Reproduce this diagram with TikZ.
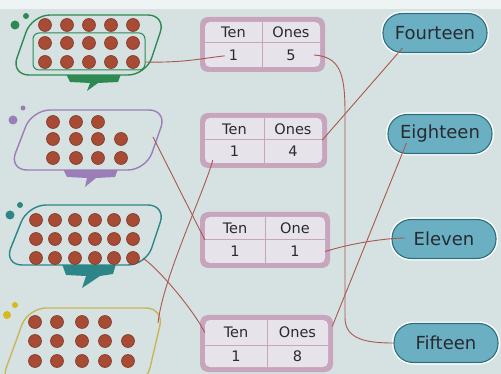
\documentclass[tikz,border=0pt]{standalone}
\usepackage{fontspec}
\setmainfont{DejaVu Sans}
\usetikzlibrary{positioning,calc}

\begin{document}
\begin{tikzpicture}[x=1pt,y=-1pt]
    \definecolor{colpage}{HTML}{D6E2E2}
    \definecolor{coldot}{HTML}{A84B34}
    \definecolor{coldotrim}{HTML}{7E3B2B}
    \definecolor{colgreen}{HTML}{2E8A52}
    \definecolor{colpurple}{HTML}{9B7DB7}
    \definecolor{colteal}{HTML}{2C8688}
    \definecolor{colyellow}{HTML}{C8B55A}
    \definecolor{colyelldot}{HTML}{D8B81C}
    \definecolor{colframe}{HTML}{C7A5BD}
    \definecolor{colcell}{HTML}{E6E4EA}
    \definecolor{colword}{HTML}{6AAFC2}
    \definecolor{colworddraw}{HTML}{2D6E7F}
    \definecolor{collink}{HTML}{A9574F}
    \definecolor{coltext}{HTML}{2A2A32}

    \tikzstyle{dot}=[fill=coldot,draw=coldotrim,line width=0.6pt]
    \tikzstyle{bubble}=[line width=1.4pt,rounded corners=18pt]
    \tikzstyle{tabcell}=[fill=colcell,rounded corners=5pt]
    \tikzstyle{tabrule}=[draw=colframe,line width=1pt]
    \tikzstyle{tabtext}=[font=\fontsize{14.5}{16}\selectfont,text=coltext,inner sep=0pt]
    \tikzstyle{word}=[draw=colworddraw,fill=colword,line width=1.1pt,rounded corners=19pt,
                      minimum width=104pt,minimum height=39pt,text=coltext,
                      font=\fontsize{18}{20}\selectfont,preaction={draw=white,line width=4pt}]
    \tikzstyle{link}=[draw=collink,line width=0.9pt]

    % table: name, x0, y0, x1, y1, split, middle, header, ones
    \def\numtable#1#2#3#4#5#6#7#8#9{
        \fill[colframe,rounded corners=8pt] (#2,#3) rectangle (#4,#5);
        \fill[tabcell] ({#2+5},{#3+5}) rectangle ({#4-5},{#5-5});
        \draw[tabrule] (#6,{#3+5}) -- (#6,{#5-5});
        \draw[tabrule] ({#2+5},#7) -- ({#4-5},#7);
        \node[tabtext,minimum width={#6-#2-5},minimum height={#7-#3-5}] (#1h1)
            at ({(#2+5+#6)/2},{(#3+5+#7)/2}) {Ten};
        \node[tabtext,minimum width={#4-5-#6},minimum height={#7-#3-5}] (#1h2)
            at ({(#6+#4-5)/2},{(#3+5+#7)/2}) {#8};
        \node[tabtext,minimum width={#6-#2-5},minimum height={#5-5-#7}] (#1d1)
            at ({(#2+5+#6)/2},{(#7+#5-5)/2}) {1};
        \node[tabtext,minimum width={#4-5-#6},minimum height={#5-5-#7}] (#1d2)
            at ({(#6+#4-5)/2},{(#7+#5-5)/2}) {#9};
    }

    % page
    \clip (0,0) rectangle (501,374);
    \fill[colpage] (0,0) rectangle (501,374);
    \fill[white,opacity=0.6] (0,0) rectangle (501,9);

    % green bubble (15)
    \fill[colgreen] (15,25) circle[radius=4.5] (26,16) circle[radius=3];
    \fill[colgreen] (66,74) -- (121,74) -- (118,82) -- (98,83) -- (87,91) -- (90,83) -- (70,82) -- cycle;
    \fill[colpage] (32,15) -- (166,15) -- (146,75) -- (11,75) -- cycle;
    \draw[bubble,colgreen] (32,15) -- (166,15) -- (146,75) -- (11,75) -- cycle;
    \draw[colgreen,line width=1pt,rounded corners=6pt] (33,33) rectangle (145,70);
    \foreach \x in {45,67,89,111,133}
        \foreach \y in {25,43,62}
            \draw[dot] (\x,\y) circle[radius=6.5];
    \coordinate (gbend) at (145,62);

    % purple bubble (11)
    \fill[colpurple] (13,120) circle[radius=4.5] (23,108) circle[radius=2.5];
    \fill[colpurple] (63,169) -- (118,169) -- (115,177) -- (96,178) -- (85,187) -- (87,178) -- (67,177) -- cycle;
    \fill[colpage] (32,110) -- (167,110) -- (146,170) -- (9,170) -- cycle;
    \draw[bubble,colpurple] (32,110) -- (167,110) -- (146,170) -- (9,170) -- cycle;
    \foreach \x in {53,76,98}
        \draw[dot] (\x,122) circle[radius=6.5];
    \foreach \x in {53,76,98,121}
        \foreach \y in {139,158}
            \draw[dot] (\x,\y) circle[radius=6.5];
    \coordinate (pbend) at (153,137);

    % teal bubble (18)
    \fill[colteal] (10,215) circle[radius=4.5] (20,205) circle[radius=3];
    \fill[colteal] (62,264) -- (116,264) -- (113,274) -- (100,276) -- (82,288) -- (86,276) -- (66,275) -- cycle;
    \fill[colpage] (28,205) -- (166,205) -- (146,265) -- (4,265) -- cycle;
    \draw[bubble,colteal] (28,205) -- (166,205) -- (146,265) -- (4,265) -- cycle;
    \foreach \x in {36,55,75,95,114,133}
        \foreach \y in {220,239,258}
            \draw[dot] (\x,\y) circle[radius=6.5];
    \coordinate (tbend) at (143,258);

    % yellow bubble (14)
    \fill[colyelldot] (7,315) circle[radius=4] (15,305) circle[radius=3];
    \draw[bubble,colyellow] (28,308) -- (164,308) -- (146,385) -- (0,385) -- cycle;
    \foreach \x in {35,57,82,105}
        \draw[dot] (\x,322) circle[radius=6.5];
    \foreach \x in {35,57,82,105,128}
        \foreach \y in {341,361}
            \draw[dot] (\x,\y) circle[radius=6.5];
    \coordinate (ybend) at (158,323);

    % tables
    \numtable{ta}{200}{17}{325}{72}{262}{43}{Ones}{5}
    \numtable{tb}{200}{113}{327}{168}{264}{140}{Ones}{4}
    \numtable{tc}{200}{212}{330}{268}{265}{240}{One}{1}
    \numtable{td}{200}{315}{333}{372}{267}{345}{Ones}{8}

    % number names
    \node[word] (fourteen) at (435,33) {Fourteen};
    \node[word] (eighteen) at (440,134) {Eighteen};
    \node[word] (eleven) at (444,239) {Eleven};
    \node[word] (fifteen) at (446,343) {Fifteen};

    % links
    \coordinate (turnA) at (345,112);
    \coordinate (turnB) at (345,318);
    \draw[link,shorten >=9pt] (gbend) .. controls +(40,1) and +(-30,3) .. (tad1.center);
    \draw[link] ([xshift=-6pt]tad2.east) .. controls +(25,2) and +(0,-40) .. (turnA)
        -- (turnB) .. controls +(0,22) and +(-25,0) .. (fifteen.west);
    \draw[link] (tbh2.south east) -- ([xshift=20pt,yshift=5pt]fourteen.south west);
    \draw[link] (pbend) -- (tcd1.north west);
    \draw[link] (tbend) .. controls +(20,15) and +(-10,-20) .. (tdh1.west);
    \draw[link] ([xshift=8pt,yshift=3pt]tbd1.south west) .. controls +(-10,35) and +(5,-45) .. (ybend);
    \draw[link] (tcd2.east) .. controls +(25,-8) and +(-20,0) .. ([xshift=14pt,yshift=1pt]eleven.west);
    \draw[link] ([xshift=4pt,yshift=6pt]tdh2.east) -- ([xshift=19pt,yshift=11pt]eighteen.south west);
\end{tikzpicture}
\end{document}
